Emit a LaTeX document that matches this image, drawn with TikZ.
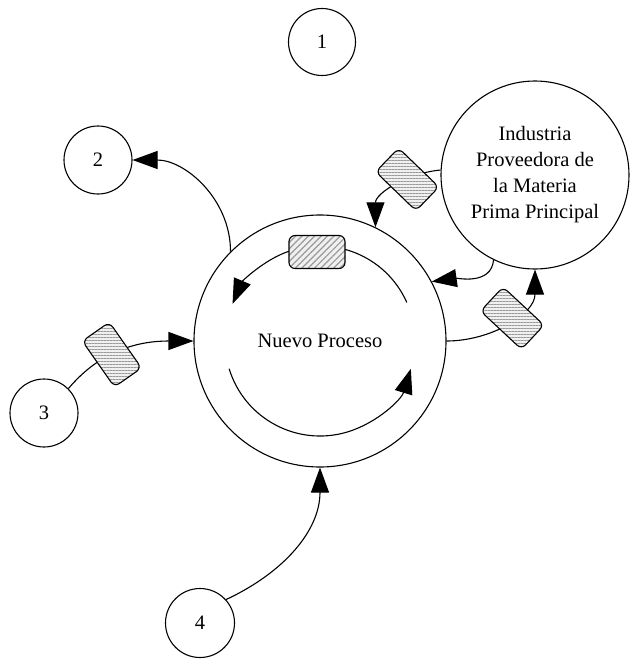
\documentclass[tikz,border=0pt]{standalone}
\usepackage{fontspec}
\setmainfont{Liberation Serif}
\usetikzlibrary{arrows.meta,patterns.meta}
\begin{document}
\begin{tikzpicture}[x=1pt,y=1pt,
  every node/.style={font=\fontsize{20.5}{26}\selectfont},
  circ/.style={draw, circle, line width=1.1pt, inner sep=0pt, align=center},
  tip/.style={-{Triangle[length=25pt,width=18pt]}},
  conn/.style={line width=1.1pt, tip},
  inner/.style={line width=1.1pt, tip},
  boxbase/.style={draw, rectangle, rounded corners=6pt, minimum width=56pt, minimum height=33pt, line width=1.1pt, preaction={fill=gray!12}, pattern color=gray!80},
  hatchdiag/.style={boxbase, pattern={Lines[angle=45,distance=4.5pt,line width=1.2pt]}},
  hatchhor/.style={boxbase, pattern={Lines[angle=0,distance=3pt,line width=1pt]}}
]
\useasboundingbox (0,0) rectangle (631,-659);

% circles
\node[circ, minimum size=252pt] (main) at (320,-341) {Nuevo Proceso};
\node[circ, minimum size=188pt] (ind) at (535,-175) {Industria\\Proveedora de\\la Materia\\Prima Principal};
\node[circ, minimum size=67pt] (c1) at (322,-42) {1};
\node[circ, minimum size=68pt] (c2) at (98,-160) {2};
\node[circ, minimum size=68pt] (c3) at (44,-413) {3};
\node[circ, minimum size=69pt] (c4) at (200,-623) {4};

% inner cycle
\draw[inner] ([shift={(24:95pt)}]main.center) arc[start angle=24, end angle=157, radius=95pt];
\draw[inner] ([shift={(197:95pt)}]main.center) arc[start angle=197, end angle=343, radius=95pt];
\node[hatchdiag] (b1) at (317,-252) {};

% connectors
\draw[conn] (main.135) to[out=90,in=0] (c2.east);
\draw[conn] (c3.45) to[out=50,in=180] node[hatchhor, pos=0.4, rotate=-55] (b3) {} (main.west);
\draw[conn] (c4.42) to[out=25,in=-90] (main.south);
\draw[conn] (ind.244) to[out=-95,in=8] (main.28);
\draw[conn] (main.east) to[out=0,in=-90] node[hatchhor, pos=0.55, rotate=-43] (b5) {} (ind.south);
\draw[conn] (ind.177) to[out=185,in=90] node[hatchhor, pos=0.35, rotate=-44] (b6) {} (main.64);
\end{tikzpicture}
\end{document}
